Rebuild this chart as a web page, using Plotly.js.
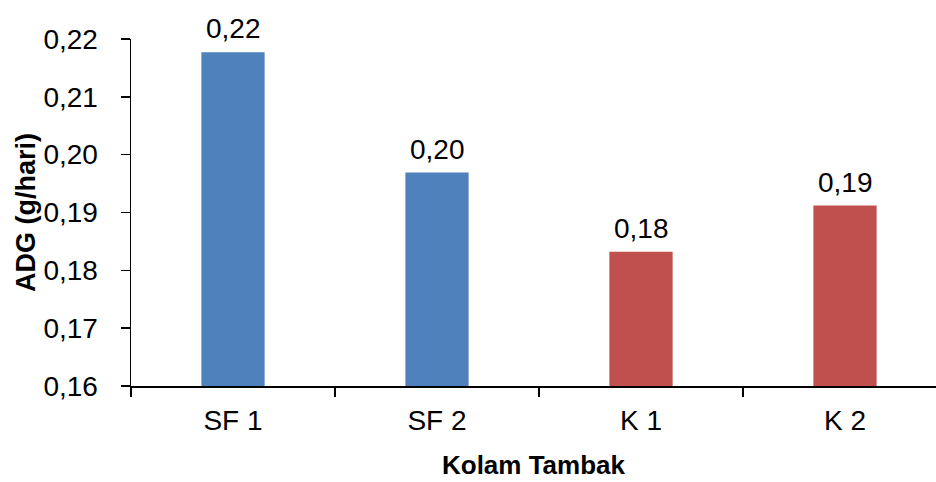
<!DOCTYPE html>
<html>
<head>
<meta charset="utf-8">
<script src="https://cdn.plot.ly/plotly-3.0.1.min.js"></script>
<style>
  html, body { margin: 0; padding: 0; background: #fff; }
  #chart { width: 936px; height: 482px; }
</style>
</head>
<body>
<div id="chart"></div>
<script>
// Average daily gain per pond
const ponds = ["SF 1", "SF 2", "K 1", "K 2"];
const adg = [0.2177, 0.1969, 0.1832, 0.1912];
const pondColors = ["#4F81BD", "#4F81BD", "#C0504D", "#C0504D"];
const yTicks = [0.16, 0.17, 0.18, 0.19, 0.20, 0.21, 0.22];

const FONT = '"Liberation Sans Narrow", "Arial Narrow", "Liberation Sans", Arial, sans-serif';
const LABEL_SIZE = 28;

const fmt = v => v.toFixed(2).replace(".", ",");

const trace = {
  type: "bar",
  x: ponds,
  y: adg,
  width: 0.31,
  marker: { color: pondColors, line: { width: 0 } },
  hoverinfo: "skip"
};

// value labels floated a little above each bar
const valueLabels = ponds.map((p, i) => ({
  x: p,
  y: adg[i],
  xref: "x",
  yref: "y",
  text: fmt(adg[i]),
  showarrow: false,
  yanchor: "bottom",
  yshift: 6,
  font: { family: FONT, size: LABEL_SIZE, color: "#000" }
}));

const layout = {
  width: 936,
  height: 482,
  separators: ", ",
  margin: { l: 131, r: 0, t: 39, b: 96 },
  paper_bgcolor: "#fff",
  plot_bgcolor: "#fff",
  showlegend: false,
  font: { family: FONT, size: LABEL_SIZE, color: "#000" },
  annotations: valueLabels,
  xaxis: {
    type: "category",
    range: [-0.5, 3.446],
    tickson: "boundaries",
    ticks: "outside",
    ticklen: 9,
    tickwidth: 1.5,
    tickcolor: "#000",
    showline: true,
    linecolor: "#000",
    linewidth: 1.5,
    showgrid: false,
    zeroline: false,
    ticklabelstandoff: 9,
    tickfont: { family: FONT, size: LABEL_SIZE, color: "#000" },
    title: {
      text: "<b>Kolam Tambak</b>",
      font: { family: FONT, size: 26, color: "#000" },
      standoff: 20
    }
  },
  yaxis: {
    range: [0.16, 0.22],
    tickvals: yTicks,
    tickformat: ".2f",
    ticks: "outside",
    ticklen: 9,
    tickwidth: 1.5,
    tickcolor: "#000",
    showline: true,
    linecolor: "#000",
    linewidth: 1.5,
    showgrid: false,
    zeroline: false,
    ticklabelstandoff: 17,
    tickfont: { family: FONT, size: LABEL_SIZE, color: "#000" },
    title: {
      text: "<b>ADG (g/hari)</b>",
      font: { family: FONT, size: 27, color: "#000" },
      standoff: 0
    }
  }
};

Plotly.newPlot("chart", [trace], layout, { displayModeBar: false, staticPlot: true });
</script>
</body>
</html>
